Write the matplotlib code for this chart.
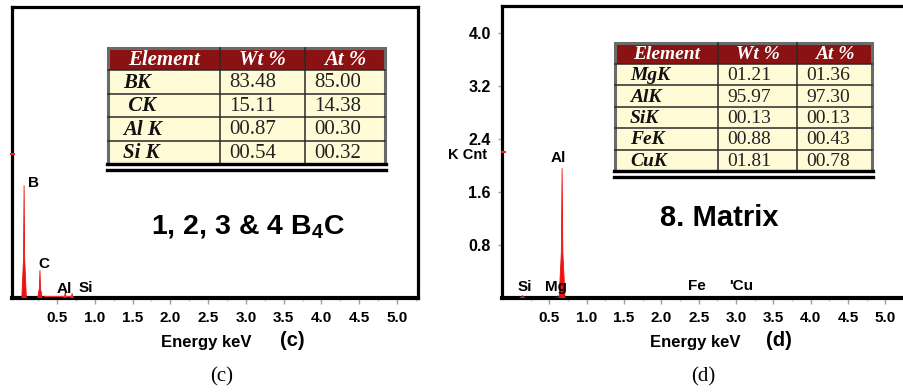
import matplotlib
matplotlib.use("Agg")
import matplotlib.pyplot as plt
from matplotlib.patches import Rectangle

plt.rcParams["mathtext.fontset"] = "custom"
plt.rcParams["mathtext.rm"] = "Liberation Sans:bold"
plt.rcParams["mathtext.bf"] = "Liberation Sans:bold"
plt.rcParams["mathtext.it"] = "Liberation Sans:bold"

# ---- spectrum (c): B4C particles ----
c_elements = ["B", "C", "Al", "Si"]
c_energy = [0.065, 0.275, 0.61, 0.70]
c_counts = [1.70, 0.42, 0.09, 0.07]

# ---- spectrum (d): matrix ----
d_elements = ["Si", "Mg", "Al", "Fe", "'Cu"]
d_energy = [0.14, 0.61, 0.67, 2.47, 3.07]
d_counts = [0.04, 0.03, 1.96, 0.0, 0.0]

x_ticks = [0.5, 1.0, 1.5, 2.0, 2.5, 3.0, 3.5, 4.0, 4.5, 5.0]
y_ticks = [0.8, 1.6, 2.4, 3.2, 4.0]

# ---- quantification tables ----
table_header = ["Element", "Wt %", "At %"]
c_rows = ["BK", " CK", "Al K", "Si K"]
c_wt = ["83.48", "15.11", "00.87", "00.54"]
c_at = ["85.00", "14.38", "00.30", "00.32"]
d_rows = ["MgK", "AlK", "SiK", "FeK", "CuK"]
d_wt = ["01.21", "95.97", "00.13", "00.88", "01.81"]
d_at = ["01.36", "97.30", "00.13", "00.43", "00.78"]

W, H = 904, 392
fig = plt.figure(figsize=(W / 100, H / 100), dpi=100)


def px_axes(left, top, right, bottom, **kw):
    return fig.add_axes([left / W, 1 - bottom / H, (right - left) / W,
                         (bottom - top) / H], **kw)


ax_c = px_axes(12, 7, 418, 298)
ax_d = px_axes(502, 6, 904, 298)

ax_c.set_xlim(-0.095, 5.278)
ax_c.set_ylim(0, 4.39)
ax_d.set_xlim(-0.135, 5.185)
ax_d.set_ylim(0, 4.41)

SANS = "Liberation Sans"
SERIF = "Liberation Serif"


def style_axes(ax, show_right, show_y):
    for side in ["left", "top", "right"]:
        ax.spines[side].set_linewidth(2.3)
        ax.spines[side].set_color("black")
    ax.spines["bottom"].set_linewidth(3.0)
    ax.spines["right"].set_visible(show_right)
    ax.set_xticks(x_ticks)
    ax.set_xticklabels([f"{t:.1f}" for t in x_ticks], fontfamily=SANS,
                       fontweight="bold", fontsize=11)
    ax.set_xticks([t - 0.25 for t in x_ticks] + [5.25], minor=True)
    ax.tick_params(axis="x", which="major", direction="out", length=4,
                   width=1, color="#a0a0a0", pad=5)
    ax.tick_params(axis="x", which="minor", direction="out", length=2,
                   width=1, color="#c8c8c8")
    if show_y:
        ax.set_yticks(y_ticks)
        ax.set_yticklabels([f"{t:.1f}" for t in y_ticks], fontfamily=SANS,
                           fontweight="bold", fontsize=11.5)
        ax.tick_params(axis="y", direction="out", length=3, width=1,
                       color="#a0a0a0", pad=5)
    else:
        ax.set_yticks([])
    ax.set_facecolor("white")


style_axes(ax_c, True, False)
style_axes(ax_d, False, True)


def draw_peaks(ax, energy, counts, half_width, colors):
    for e, h, col in zip(energy, counts, colors):
        if h <= 0:
            continue
        ax.fill([e - half_width, e - half_width * 0.25, e,
                 e + half_width * 0.25, e + half_width],
                [0, h * 0.35, h, h * 0.35, 0], color=col, lw=0.6,
                ec=col, zorder=3)


draw_peaks(ax_c, c_energy, c_counts, 0.03, ["#ee1111"] * 4)
ax_c.plot([c_energy[1] + 0.05, c_energy[3]], [0.03, 0.03], color="#ee3333",
          lw=0.8, zorder=3)
draw_peaks(ax_d, d_energy, d_counts, 0.04,
           ["#dd2222", "#222222", "#ee1111", "#ee1111", "#ee1111"])


def label_peaks(ax, names, energy, counts, offsets):
    for n, e, h, (dx, dy) in zip(names, energy, counts, offsets):
        ax.annotate(n, (e, h), xytext=(dx, dy), textcoords="offset points",
                    ha="center", va="center", fontfamily=SANS,
                    fontweight="bold", fontsize=11, annotation_clip=False)


label_peaks(ax_c, c_elements, c_energy, c_counts,
            [(6.5, 1.5), (2.5, 4.5), (-1, 2.5), (10, 3.5)])
label_peaks(ax_d, d_elements, d_energy, d_counts,
            [(1.5, 6), (-1, 6.5), (-2.5, 7.5), (0, 8.5), (0, 8.5)])

# overlay in pixel coordinates for tables and captions
canvas = fig.add_axes([0, 0, 1, 1], zorder=5)
canvas.set_xlim(0, W)
canvas.set_ylim(H, 0)
canvas.axis("off")
canvas.patch.set_alpha(0)


def draw_table(x0, y0, col_w, head_h, row_h, names, wt, at, fs_head, fs):
    total_w = sum(col_w)
    n = len(names)
    total_h = head_h + n * row_h
    canvas.add_patch(Rectangle((x0, y0), total_w, head_h, fc="#8a1212",
                               ec="none"))
    canvas.add_patch(Rectangle((x0, y0 + head_h), total_w, n * row_h,
                               fc="#fffbd6", ec="none"))
    xs = [x0]
    for w in col_w:
        xs.append(xs[-1] + w)
    for x in xs[1:-1]:
        canvas.plot([x, x], [y0, y0 + total_h], color="#2a2a2a", lw=1.1)
    for i in range(1, n):
        y = y0 + head_h + i * row_h
        canvas.plot([x0, x0 + total_w], [y, y], color="#2a2a2a", lw=1.1)
    canvas.plot([x0, x0 + total_w], [y0 + head_h] * 2, color="#2a2a2a",
                lw=1.1)
    canvas.add_patch(Rectangle((x0, y0), total_w, total_h, fc="none",
                               ec="#6a6a6a", lw=2.2))
    canvas.plot([x0 - 1, x0 + total_w + 1], [y0 + total_h] * 2,
                color="black", lw=2.4)
    canvas.plot([x0 - 1, x0 + total_w + 1], [y0 + total_h + 6] * 2,
                color="black", lw=2.4)
    for j, h in enumerate(table_header):
        canvas.text((xs[j] + xs[j + 1]) / 2, y0 + head_h / 2 + 1, h,
                    ha="center", va="center", color="white",
                    fontfamily=SERIF, fontweight="bold", fontstyle="italic",
                    fontsize=fs_head)
    for i in range(n):
        yc = y0 + head_h + (i + 0.5) * row_h + 1
        canvas.text(xs[0] + 15, yc, names[i], ha="left", va="center",
                    fontfamily=SERIF, fontweight="bold", fontstyle="italic",
                    fontsize=fs, color="#111111")
        canvas.text(xs[1] + 9, yc, wt[i], ha="left", va="center",
                    fontfamily=SERIF, fontsize=fs, color="#222222")
        canvas.text(xs[2] + 9, yc, at[i], ha="left", va="center",
                    fontfamily=SERIF, fontsize=fs, color="#222222")


draw_table(108, 48, [112, 85, 80], 22, 23.5, c_rows, c_wt, c_at, 15, 15)
draw_table(615, 43, [103, 79, 75], 21, 21.4, d_rows, d_wt, d_at, 14, 14)

# sample annotations
canvas.text(248, 226, r"1, 2, 3 & 4 B$_\mathbf{4}$C", ha="center",
            va="center", fontfamily=SANS, fontweight="bold", fontsize=20.5)
canvas.text(719, 218, "8. Matrix", ha="center", va="center",
            fontfamily=SANS, fontweight="bold", fontsize=21)

# axis titles and panel tags
canvas.text(468, 155, "K Cnt", ha="center", va="center", fontfamily=SANS,
            fontweight="bold", fontsize=10.5)
canvas.plot([502, 505], [152, 152], color="#ee2222", lw=1.5)
canvas.plot([11, 14], [154, 154], color="#ee2222", lw=1.5)
for xc, xt, xs, tag in [(206, 292, 222, "c"), (695, 779, 703, "d")]:
    canvas.text(xc, 342, "Energy keV", ha="center", va="center",
                fontfamily=SANS, fontweight="bold", fontsize=12)
    canvas.text(xt, 340, f"({tag})", ha="center", va="center",
                fontfamily=SANS, fontweight="bold", fontsize=14.5)
    canvas.text(xs, 377, f"({tag})", ha="center", va="center",
                fontfamily=SERIF, fontsize=15)

fig.savefig("out.png", dpi=100)
